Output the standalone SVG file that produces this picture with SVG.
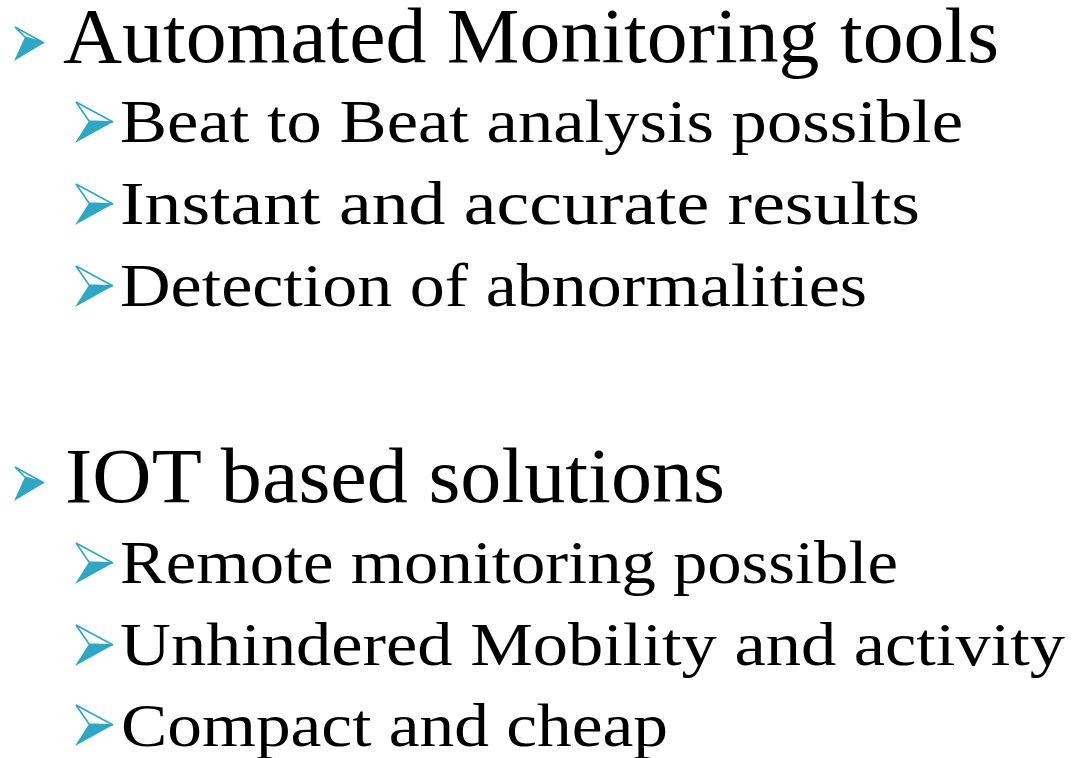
<svg xmlns="http://www.w3.org/2000/svg" width="1072" height="758" viewBox="0 0 1072 758">
<style>
.t{font-family:"Liberation Serif","DejaVu Serif",serif;fill:#000}
.l1{font-size:79px}
.l2{font-size:62px}
.bo{fill:none;stroke:#2EA6C4;stroke-width:1.6;stroke-linejoin:miter}
.bf{fill:#2EA6C4}
</style>
<defs>
<g id="b1">
<path class="bo" d="M0,0 L29,16 L10,10 Z"/>
<path class="bf" d="M10,10 L29,16 L-1,34 Z"/>
</g>
<g id="b2">
<path class="bo" d="M0,0 L37,20 L13,19 Z"/>
<path class="bf" d="M13,19 L37,20 L-1,41 Z"/>
</g>
</defs>
<rect width="1072" height="758" fill="#fff"/>
<g id="item-automated">
<use href="#b1" x="15" y="27"/>
<text class="t l1" x="63" y="62" textLength="936" lengthAdjust="spacingAndGlyphs">Automated Monitoring tools</text>
</g>
<g id="item-beat">
<use href="#b2" x="76" y="102"/>
<text class="t l2" x="120" y="142" textLength="843" lengthAdjust="spacingAndGlyphs">Beat to Beat analysis possible</text>
</g>
<g id="item-instant">
<use href="#b2" x="76" y="184"/>
<text class="t l2" x="120" y="224" textLength="800" lengthAdjust="spacingAndGlyphs">Instant and accurate results</text>
</g>
<g id="item-detection">
<use href="#b2" x="76" y="266"/>
<text class="t l2" x="120" y="306" textLength="747" lengthAdjust="spacingAndGlyphs">Detection of abnormalities</text>
</g>
<g id="item-iot">
<use href="#b1" x="15" y="467"/>
<text class="t l1" x="65" y="502" textLength="660" lengthAdjust="spacingAndGlyphs">IOT based solutions</text>
</g>
<g id="item-remote">
<use href="#b2" x="76" y="543"/>
<text class="t l2" x="120" y="583" textLength="778" lengthAdjust="spacingAndGlyphs">Remote monitoring possible</text>
</g>
<g id="item-unhindered">
<use href="#b2" x="76" y="625"/>
<text class="t l2" x="120" y="665" textLength="945" lengthAdjust="spacingAndGlyphs">Unhindered Mobility and activity</text>
</g>
<g id="item-compact">
<use href="#b2" x="76" y="705"/>
<text class="t l2" x="121" y="746" textLength="547" lengthAdjust="spacingAndGlyphs">Compact and cheap</text>
</g>
<g id="connectors"/>
</svg>
